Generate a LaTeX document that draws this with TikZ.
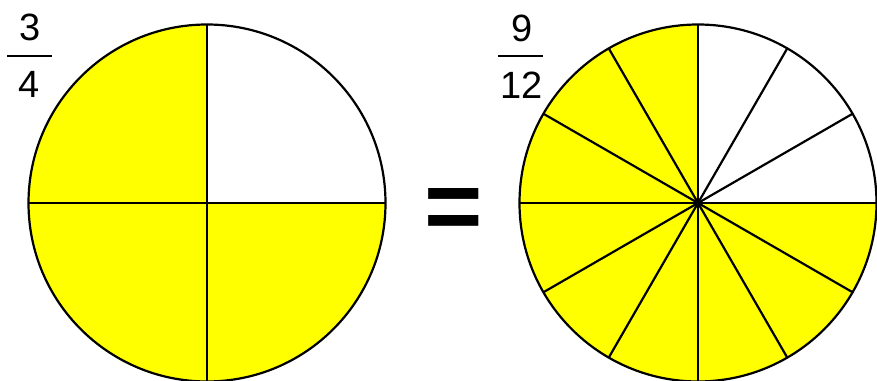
\documentclass[tikz,border=0pt]{standalone}
\usepackage{fontspec}
\setmainfont{Liberation Sans}
\usetikzlibrary{positioning}
\definecolor{pieyellow}{RGB}{255,255,0}
\begin{document}
\begin{tikzpicture}[
  x=1pt, y=1pt,
  pie/.style={draw, line width=2.2pt},
  num/.style={font=\fontsize{38}{38}\selectfont, inner sep=0pt},
  bar/.style={line width=2pt}
]
\useasboundingbox (0,0) rectangle (877,380);
\def\rad{178.5}
% left circle: 3/4
\coordinate (cl) at (207,177);
\fill[pieyellow] (cl) -- ++(90:\rad) arc[start angle=90, end angle=360, radius=\rad] -- cycle;
\foreach \a in {0,90,...,270}
  \draw[pie] (cl) -- ++(\a:\rad);
\draw[pie] (cl) circle[radius=\rad];
\node[num] (n3) at (30,353) {3};
\node[num] (d4) at (29.5,295.5) {4};
\draw[bar] (7.3,324.3) -- (52.3,324.3);
% equals
\node[font=\bfseries\fontsize{100}{100}\selectfont, inner sep=0pt] (eq) at (453.5,165.5) {=};
% right circle: 9/12
\coordinate (cr) at (698,177);
\fill[pieyellow] (cr) -- ++(90:\rad) arc[start angle=90, end angle=360, radius=\rad] -- cycle;
\foreach \a in {0,30,...,330}
  \draw[pie] (cr) -- ++(\a:\rad);
\draw[pie] (cr) circle[radius=\rad];
\node[num] (n9) at (521.7,351.7) {9};
\node[num] (d12) at (521.7,294.5) {12};
\draw[bar] (498.3,324.3) -- (543.3,324.3);
\end{tikzpicture}
\end{document}
